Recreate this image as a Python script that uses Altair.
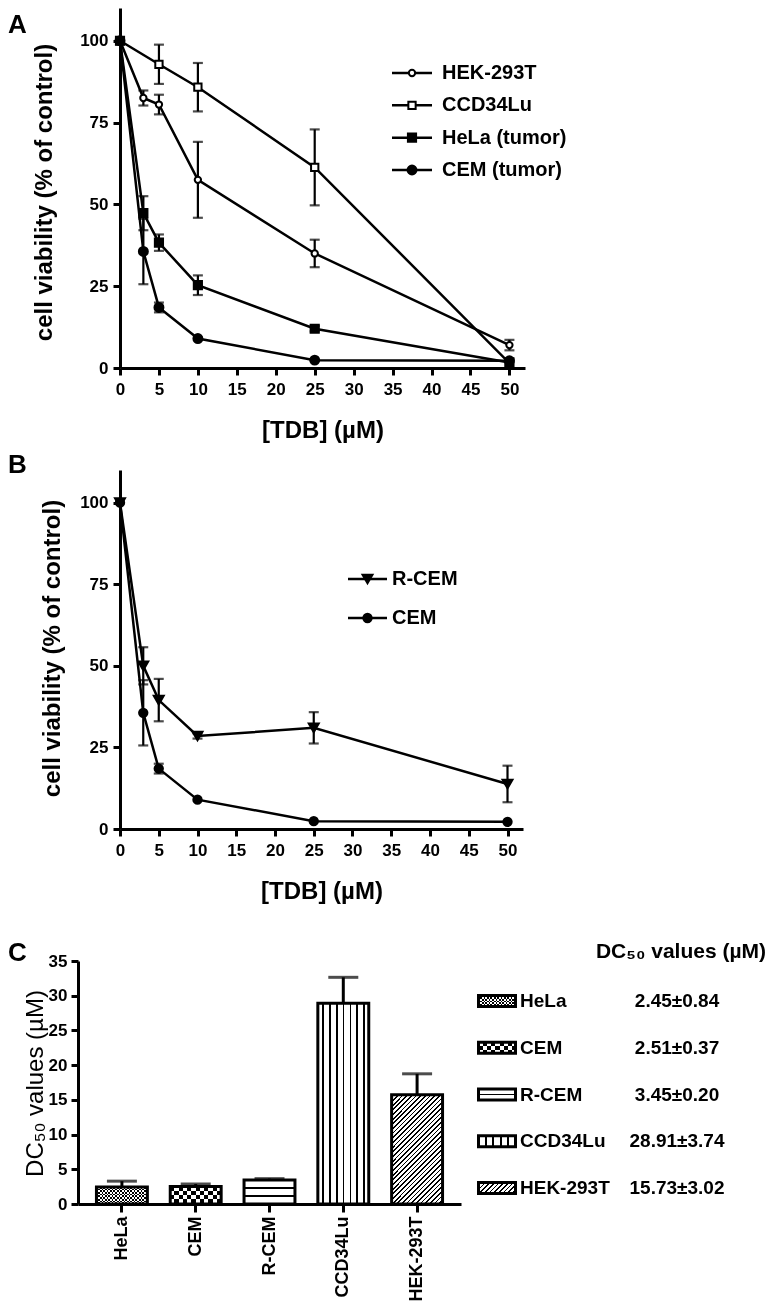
import math
import altair as alt
import pandas as pd

FONT = "Liberation Sans, Arial, sans-serif"

# ---------------- data ----------------
conc_hek = [0, 3, 5, 10, 25, 50]
via_hek = [100, 82.5, 80.5, 57.5, 35.0, 7.0]
err_hek = [0, 2.3, 3.0, 11.6, 4.2, 1.6]

conc_ccd = [0, 5, 10, 25, 50]
via_ccd = [100, 92.8, 85.8, 61.3, 1.5]
err_ccd = [0, 6.0, 7.4, 11.6, 0]

conc_hela = [0, 3, 5, 10, 25, 50]
via_hela = [100, 47.3, 38.3, 25.3, 12.0, 1.7]
err_hela = [0, 5.2, 2.5, 3.0, 0.8, 0]

conc_cem = [0, 3, 5, 10, 25, 50]
via_cem = [100, 35.6, 18.5, 9.0, 2.4, 2.2]
err_cem = [0, 10.0, 1.5, 0, 0, 0]

conc_rcem = [0, 3, 5, 10, 25, 50]
via_rcem = [100, 50.0, 39.5, 28.5, 31.0, 13.8]
err_rcem = [0, 5.7, 6.5, 0.8, 4.8, 5.6]

series_a = ["HEK-293T", "CCD34Lu", "HeLa (tumor)", "CEM (tumor)"]
series_b = ["R-CEM", "CEM"]

cells = ["HeLa", "CEM", "R-CEM", "CCD34Lu", "HEK-293T"]
dc50 = [2.45, 2.51, 3.45, 28.91, 15.73]
dc50_err = [0.84, 0.37, 0.20, 3.74, 3.02]
dc50_text = ["2.45\u00b10.84", "2.51\u00b10.37", "3.45\u00b10.20", "28.91\u00b13.74", "15.73\u00b13.02"]
table_title = ["DC\u2085\u2080 values (\u00b5M)"]

panel_letters = ["A", "B", "C"]
x_ticks = [0, 5, 10, 15, 20, 25, 30, 35, 40, 45, 50]
y_ticks = [0, 25, 50, 75, 100]
c_ticks = [0, 5, 10, 15, 20, 25, 30, 35]


def frame(names, xs, ys, es):
    rows = []
    for n, x, y, e in zip(names, xs, ys, es):
        for xi, yi, ei in zip(x, y, e):
            rows.append({"series": n, "x": xi, "y": yi, "lo": yi - ei, "hi": yi + ei, "e": ei})
    return pd.DataFrame(rows)


df_a = frame(series_a, [conc_hek, conc_ccd, conc_hela, conc_cem],
             [via_hek, via_ccd, via_hela, via_cem], [err_hek, err_ccd, err_hela, err_cem])
df_b = frame(series_b, [conc_rcem, conc_cem], [via_rcem, via_cem], [err_rcem, err_cem])
df_c = pd.DataFrame({"cell": cells, "v": dc50, "e": dc50_err,
                     "hi": [v + e for v, e in zip(dc50, dc50_err)], "label": dc50_text})


# ---------------- pattern helpers (gradient fills) ----------------
def stops_from(bands, fg, bg):
    st = [{"offset": 0.0, "color": bg}]
    for a, b in bands:
        a = round(min(max(a, 0.0), 1.0), 4)
        b = round(min(max(b, 0.0), 1.0), 4)
        st += [{"offset": a, "color": bg}, {"offset": a, "color": fg},
               {"offset": b, "color": fg}, {"offset": b, "color": bg}]
    st.append({"offset": 1.0, "color": bg})
    return st


def periodic(length, period, thick, first):
    bands = []
    p = first
    while p - thick / 2 < length:
        bands.append(((p - thick / 2) / length, (p + thick / 2) / length))
        p += period
    return bands


def lin(stops, x1, y1, x2, y2):
    return {"gradient": "linear", "stops": stops, "x1": x1, "y1": y1, "x2": x2, "y2": y2}


def vstripes(w, period, thick, first, fg, bg):
    return lin(stops_from(periodic(w, period, thick, first), fg, bg), 0, 0, 1, 0)


def hstripes(h, period, thick, first, fg, bg):
    return lin(stops_from(periodic(h, period, thick, first), fg, bg), 0, 0, 0, 1)


def hatch(w, h, period, thick):
    s = (w + h) / (w * w + h * h)
    L = (w + h) / math.sqrt(2)
    return lin(stops_from(periodic(L, period, thick, period / 2), "black", "white"), 0, 0, w * s, h * s)


CLEAR = "rgba(0,0,0,0)"


def patterns(w, h, small):
    if small:
        hh = [h] * 5
        rcem = hstripes(h, h, 2.0, h / 2, "black", "white")
        ccd = vstripes(w, w / 5, 1.8, w / 5, "black", "white")
        cem_h = hstripes(h, 8.5, 4.25, h / 2, "white", CLEAR)
    else:
        hh = h
        rcem = hstripes(h[2], h[2] / 3, 2.0, h[2] / 3, "black", "white")
        ccd = vstripes(w, 6.85, 1.6, 5.2, "black", "white")
        cem_h = hstripes(h[1], 8.5, 4.25, 2.1, "white", CLEAR)
    return {
        "HeLa": [(vstripes(w, 3.4, 1.7, 0.85, "white", "black"), None),
                 (hstripes(hh[0], 3.4, 1.7, 0.85, "white", CLEAR), "difference")],
        "CEM": [(vstripes(w, 8.5, 4.25, 2.1, "white", "black"), None), (cem_h, "difference")],
        "R-CEM": [(rcem, None)],
        "CCD34Lu": [(ccd, None)],
        "HEK-293T": [(hatch(w, hh[4], 3.3, 1.3), None)],
    }


def letter_layer(letter, dx, dy):
    return alt.Chart(pd.DataFrame({"t": [letter]})).mark_text(
        align="left", baseline="top", font=FONT, fontSize=26, fontWeight="bold", color="black"
    ).encode(text="t:N", x=alt.value(dx), y=alt.value(dy))


AX = dict(labelFont=FONT, labelFontSize=17, labelFontWeight="bold", labelColor="black",
          labelFlush=False, labelOverlap=False, domainColor="black", domainWidth=3,
          tickColor="black", tickWidth=3, grid=False)


# ---------------- line panels ----------------
def line_panel(df, names, shapes, fills, sizes, letter, letter_dy,
               width, height, ytx, yty, leg_rows, leg_line, leg_text_x):
    xs = alt.Scale(domain=[0, 52], nice=False, zero=False)
    ys = alt.Scale(domain=[0, 110], nice=False)
    xax = alt.Axis(values=x_ticks, title="[TDB] (\u00b5M)", titleFont=FONT, titleFontSize=24,
                   titleFontWeight="bold", titleColor="black", titlePadding=21,
                   labelPadding=6, tickSize=7, **AX)
    yax = alt.Axis(values=y_ticks, title="cell viability (% of control)", titleFont=FONT,
                   titleFontSize=24, titleFontWeight="bold", titleColor="black",
                   titleX=ytx, titleY=yty, titleAngle=-90, titleAlign="center", titleBaseline="middle",
                   labelPadding=5, tickSize=7, **AX)
    X = alt.X("x:Q", scale=xs, axis=xax)
    shape_s = alt.Scale(domain=names, range=shapes)
    fill_s = alt.Scale(domain=names, range=fills)
    size_s = alt.Scale(domain=names, range=sizes)
    base = alt.Chart(df)
    lines = base.mark_line(color="black", strokeWidth=2.5).encode(
        x=X, y=alt.Y("y:Q", scale=ys, axis=yax), detail="series:N")
    err = base.transform_filter("datum.e > 0")
    rules = err.mark_rule(color="black", strokeWidth=2.2).encode(
        x=X, y=alt.Y("lo:Q", scale=ys, axis=yax), y2="hi:Q")
    cap_hi = err.mark_tick(orient="horizontal", size=10, thickness=2.2, color="black").encode(
        x=X, y=alt.Y("hi:Q", scale=ys, axis=yax))
    cap_lo = err.mark_tick(orient="horizontal", size=10, thickness=2.2, color="black").encode(
        x=X, y=alt.Y("lo:Q", scale=ys, axis=yax))
    pts = base.mark_point(filled=True, stroke="black", strokeWidth=2, opacity=1).encode(
        x=X, y=alt.Y("y:Q", scale=ys, axis=yax),
        shape=alt.Shape("series:N", scale=shape_s, legend=None),
        fill=alt.Fill("series:N", scale=fill_s, legend=None),
        size=alt.Size("series:N", scale=size_s, legend=None))
    data_group = alt.layer(lines, rules, cap_hi, cap_lo, pts)

    # legend drawn with the same shape / fill / size scales
    legdf = pd.DataFrame({"series": names})
    LY = alt.Y("series:N", scale=alt.Scale(type="point", domain=names, range=leg_rows, padding=0),
               axis=None)
    lbase = alt.Chart(legdf)
    l_line = lbase.mark_rule(color="black", strokeWidth=2.5).encode(
        y=LY, x=alt.value(leg_line[0]), x2=alt.value(leg_line[1]))
    l_pt = lbase.mark_point(filled=True, stroke="black", strokeWidth=2, opacity=1).encode(
        y=LY, x=alt.value((leg_line[0] + leg_line[1]) / 2),
        shape=alt.Shape("series:N", scale=shape_s, legend=None),
        fill=alt.Fill("series:N", scale=fill_s, legend=None),
        size=alt.Size("series:N", scale=size_s, legend=None))
    l_txt = lbase.mark_text(align="left", baseline="middle", font=FONT, fontSize=20,
                            fontWeight="bold", color="black").encode(
        y=LY, x=alt.value(leg_text_x), text="series:N")
    legend_group = alt.layer(l_line, l_pt, l_txt)
    return alt.layer(data_group, legend_group, letter_layer(letter, -112, letter_dy)).resolve_scale(
        y="independent").properties(width=width, height=height)


panel_a = line_panel(df_a, series_a, ["circle", "square", "square", "circle"],
                     ["white", "white", "black", "black"], [40, 80, 80, 70],
                     panel_letters[0], 4, 405, 360, -76, 184,
                     [65, 162], [272, 312], 322)
panel_b = line_panel(df_b, series_b, ["triangle-down", "circle"], ["black", "black"], [100, 70],
                     panel_letters[1], -18, 403, 359, -68, 178,
                     [109, 148], [228, 267], 272)

# ---------------- bar panel ----------------
SHIFT = 42  # bar panel's y axis sits left of the shared plot origin
BW = 51.0
bar_h = [v * 243 / 35 for v in dc50]
pat_bars = patterns(BW, bar_h, False)
pat_sw = patterns(37.0, 11.0, True)

xs_c = alt.Scale(domain=cells, paddingInner=0.31, paddingOuter=0.25, range=[-SHIFT, 383 - SHIFT])
ys_c = alt.Scale(domain=[0, 35], nice=False)
xax_c = alt.Axis(title=None, labelAngle=-90, labelPadding=4, tickSize=8, bandPosition=0.5,
                 **{**AX, "labelFontSize": 18})
yax_c = alt.Axis(values=c_ticks, title="DC\u2085\u2080 values (\u00b5M)", titleFont=FONT, titleFontSize=24,
                 titleFontWeight="normal", titleColor="black", titleX=-43, titleY=122, titleAngle=-90,
                 titleAlign="center", titleBaseline="middle", labelPadding=4, tickSize=7,
                 offset=SHIFT, **AX)
XC = alt.X("cell:N", scale=xs_c, axis=xax_c, sort=cells)
cbase = alt.Chart(df_c)
c_layers = []
for cell in cells:
    sub = cbase.transform_filter(alt.datum.cell == cell)
    for fill, blend in pat_bars[cell]:
        kw = {"fill": fill, "strokeWidth": 0}
        if blend:
            kw["blend"] = blend
        c_layers.append(sub.mark_bar(**kw).encode(x=XC, y=alt.Y("v:Q", scale=ys_c, axis=yax_c)))
c_layers.append(cbase.mark_bar(fill=CLEAR, stroke="black", strokeWidth=3).encode(
    x=XC, y=alt.Y("v:Q", scale=ys_c, axis=yax_c)))
c_layers.append(cbase.mark_rule(color="black", strokeWidth=3).encode(
    x=XC, y=alt.Y("v:Q", scale=ys_c, axis=yax_c), y2="hi:Q"))
c_layers.append(cbase.mark_tick(orient="horizontal", size=30, thickness=3, color="black").encode(
    x=XC, y=alt.Y("hi:Q", scale=ys_c, axis=yax_c)))
bars_group = alt.layer(*c_layers)

# legend table for panel C (to the right of the bars)
TX = 357  # left edge of the table, relative to the shared plot origin
YT = alt.Y("cell:N", sort=cells,
           scale=alt.Scale(domain=cells, paddingInner=0, paddingOuter=0, range=[16.6, 250.4]),
           axis=None)
tbase = alt.Chart(df_c)
t_layers = []
for cell in cells:
    sub = tbase.transform_filter(alt.datum.cell == cell)
    for fill, blend in pat_sw[cell]:
        kw = {"fill": fill, "strokeWidth": 0, "height": 11}
        if blend:
            kw["blend"] = blend
        t_layers.append(sub.mark_bar(**kw).encode(y=YT, x=alt.value(TX + 1.5), x2=alt.value(TX + 38.5)))
t_layers.append(tbase.mark_bar(fill=CLEAR, stroke="black", strokeWidth=3, height=11).encode(
    y=YT, x=alt.value(TX + 1.5), x2=alt.value(TX + 38.5)))
t_layers.append(tbase.mark_text(align="left", baseline="middle", font=FONT, fontSize=19,
                                fontWeight="bold", color="black").encode(
    y=YT, x=alt.value(TX + 43), text="cell:N"))
t_layers.append(tbase.mark_text(align="center", baseline="middle", font=FONT, fontSize=19,
                                fontWeight="bold", color="black").encode(
    y=YT, x=alt.value(TX + 200), text="label:N"))
t_layers.append(alt.Chart(pd.DataFrame({"t": table_title})).mark_text(
    align="right", baseline="alphabetic", font=FONT, fontSize=21, fontWeight="bold", color="black"
).encode(text="t:N", x=alt.value(TX + 289), y=alt.value(-3)))
table_group = alt.layer(*t_layers)

panel_c = alt.layer(bars_group, table_group,
                    letter_layer(panel_letters[2], -70 - SHIFT, -21)).resolve_scale(
    y="independent").properties(width=383 - SHIFT, height=243)

IND = dict(shape="independent", fill="independent", size="independent")
top_two = alt.concat(panel_a, panel_b, columns=1, align="none", spacing=10).resolve_scale(**IND)
chart = alt.concat(top_two, panel_c, columns=1, align="none", spacing=37).resolve_scale(
    **IND).properties(padding=0).configure_view(stroke=None)

chart.save("out.html", embed_options={"renderer": "svg", "actions": False})
